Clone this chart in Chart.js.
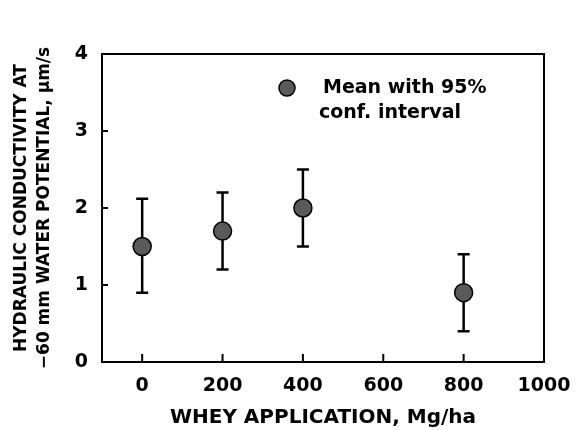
<!DOCTYPE html>
<html>
<head>
<meta charset="utf-8">
<script src="https://cdn.jsdelivr.net/npm/chart.js@4.4.1/dist/chart.umd.min.js"></script>
<style>
  html, body { margin: 0; background: #fff; }
</style>
</head>
<body>
<canvas id="chart" width="576" height="430"></canvas>
<script>
// data
const wheyRates = [0, 200, 400, 800]
const meanK = [1.5, 1.7, 2.0, 0.9]
const ciLow = [0.9, 1.2, 1.5, 0.4]
const ciHigh = [2.12, 2.2, 2.5, 1.4]
const xTickVals = [0, 200, 400, 600, 800, 1000]
const yTickVals = [0, 1, 2, 3, 4]
const legendLines = ['Mean with 95%', 'conf. interval']

const FONT = '"DejaVu Sans", sans-serif'
const ink = '#000'

// error bars under the points, frame + inward ticks + legend on top
const extras = {
  id: 'extras',
  beforeDatasetsDraw(chart) {
    const { ctx, scales: { x, y } } = chart
    ctx.save()
    ctx.strokeStyle = ink
    ctx.lineWidth = 2.5
    wheyRates.forEach((r, i) => {
      const px = x.getPixelForValue(r)
      const lo = y.getPixelForValue(ciLow[i])
      const hi = y.getPixelForValue(ciHigh[i])
      ctx.beginPath()
      ctx.moveTo(px, lo); ctx.lineTo(px, hi)
      ctx.moveTo(px - 6, lo); ctx.lineTo(px + 6, lo)
      ctx.moveTo(px - 6, hi); ctx.lineTo(px + 6, hi)
      ctx.stroke()
    })
    ctx.restore()
  },
  afterDraw(chart) {
    const { ctx, chartArea: a, scales: { x, y } } = chart
    ctx.save()
    ctx.strokeStyle = ink
    ctx.lineWidth = 2
    ctx.strokeRect(a.left, a.top, a.right - a.left, a.bottom - a.top)
    ctx.beginPath()
    xTickVals.forEach(v => {
      const px = x.getPixelForValue(v)
      if (px >= a.right - 1) return
      ctx.moveTo(px, a.bottom); ctx.lineTo(px, a.bottom - 8)
    })
    yTickVals.forEach(v => {
      const py = y.getPixelForValue(v)
      ctx.moveTo(a.left, py); ctx.lineTo(a.left + 6, py)
    })
    ctx.stroke()

    // legend
    const mx = a.left + 185, my = a.top + 34
    ctx.beginPath()
    ctx.arc(mx, my, 8, 0, Math.PI * 2)
    ctx.fillStyle = '#5a5a5a'
    ctx.fill()
    ctx.lineWidth = 1.5
    ctx.stroke()
    ctx.fillStyle = ink
    ctx.font = 'bold 19px ' + FONT
    ctx.textBaseline = 'middle'
    ctx.textAlign = 'left'
    ctx.fillText(legendLines[0], mx + 36, my)
    ctx.fillText(legendLines[1], mx + 32, my + 25)
    ctx.restore()
  }
}

const ctx = document.getElementById('chart')
let myChart = new Chart(ctx, {
  type: 'scatter',
  data: {
    datasets: [{
      data: wheyRates.map((r, i) => ({ x: r, y: meanK[i] })),
      pointRadius: 9,
      pointHoverRadius: 9,
      pointBackgroundColor: '#5a5a5a',
      pointBorderColor: ink,
      pointBorderWidth: 1.5
    }]
  },
  options: {
    responsive: false,
    devicePixelRatio: 1,
    animation: false,
    layout: { padding: { top: 54, right: 32, left: 0, bottom: 0 } },
    plugins: {
      legend: { display: false },
      tooltip: { enabled: false }
    },
    scales: {
      x: {
        type: 'linear',
        min: -100,
        max: 1000,
        afterBuildTicks: s => { s.ticks = xTickVals.map(v => ({ value: v })) },
        afterFit: s => { s.height = 68 },
        grid: { display: false },
        border: { display: false },
        ticks: {
          color: ink,
          padding: 5,
          maxRotation: 0,
          callback: v => String(v),
          font: { family: FONT, size: 19, weight: 'bold' }
        },
        title: {
          display: true,
          text: 'WHEY APPLICATION, Mg/ha',
          color: ink,
          padding: { top: 2, bottom: 0 },
          font: { family: FONT, size: 20, weight: 'bold' }
        }
      },
      y: {
        min: 0,
        max: 4,
        afterBuildTicks: s => { s.ticks = yTickVals.map(v => ({ value: v })) },
        afterFit: s => { s.width = 102 },
        grid: { display: false },
        border: { display: false },
        ticks: {
          color: ink,
          padding: 6,
          font: { family: FONT, size: 19, weight: 'bold' }
        },
        title: {
          display: true,
          text: ['HYDRAULIC CONDUCTIVITY AT', '\u221260 mm WATER POTENTIAL, \u03bcm/s'],
          color: ink,
          padding: { top: 10, bottom: 0 },
          font: { family: FONT, size: 17, weight: 'bold', lineHeight: 1.35 }
        }
      }
    }
  },
  plugins: [extras]
})
</script>
</body>
</html>
